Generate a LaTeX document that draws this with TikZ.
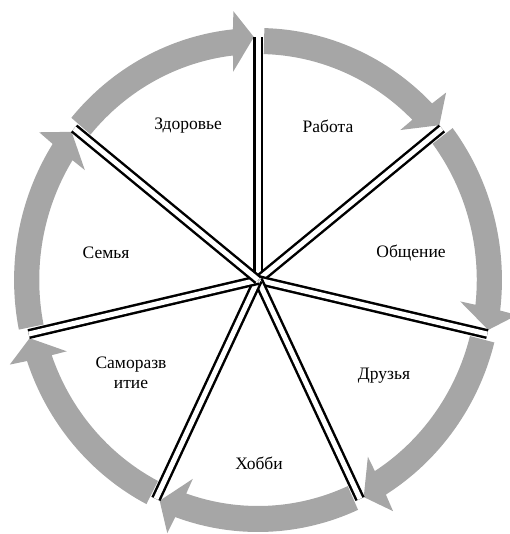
\documentclass[tikz,border=0pt]{standalone}
\usepackage{fontspec}
\setmainfont{Liberation Serif}
\definecolor{bandgray}{RGB}{166,166,166}
\begin{document}
\begin{tikzpicture}[x=1pt,y=-1pt,
  lbl/.style={font=\fontsize{17.5}{20}\selectfont, align=center, inner sep=0pt},
  spoke/.style={draw=black, line width=2.5pt, double=white, double distance=5pt},
  cyc/.style={fill=bandgray, draw=none}]
\useasboundingbox (0,0) rectangle (509,534);
\begin{scope}[shift={(258,280)}, yscale=-1, xscale=0.968]
  \coordinate (c) at (0,0);
  \foreach \k in {0,...,6}{
    \pgfmathsetmacro{\a}{90-51.4286*\k}
    \pgfmathsetmacro{\b}{\a-51.4286}
    \pgfmathsetmacro{\ta}{\a-1.5}
    \pgfmathsetmacro{\eo}{\b+5.9}
    \pgfmathsetmacro{\ho}{\b+5.4}
    \pgfmathsetmacro{\tp}{\b+1}
    \pgfmathsetmacro{\hi}{\b+7}
    \pgfmathsetmacro{\ei}{\b+6.57}
    \fill[cyc] (\ta:252) arc[start angle=\ta, end angle=\eo, radius=252]
      -- (\ho:270) -- (\tp:243) -- (\hi:210) -- (\ei:226)
      arc[start angle=\ei, end angle=\ta, radius=226] -- cycle;
    \coordinate (s\k) at (\a:243);
  }
  \foreach \k in {0,...,6}{
    \draw[spoke] (c) -- (s\k);
  }
\end{scope}
\node[lbl] (zd) at (188,126) {Здоровье};
\node[lbl] (rb) at (328,126) {Работа};
\node[lbl] (ob) at (411,253) {Общение};
\node[lbl] (dr) at (384,376) {Друзья};
\node[lbl] (hb) at (259,463) {Хобби};
\node[lbl] (sr) at (131,373) {Саморазв\\итие};
\node[lbl] (se) at (106,253) {Семья};
\end{tikzpicture}
\end{document}
